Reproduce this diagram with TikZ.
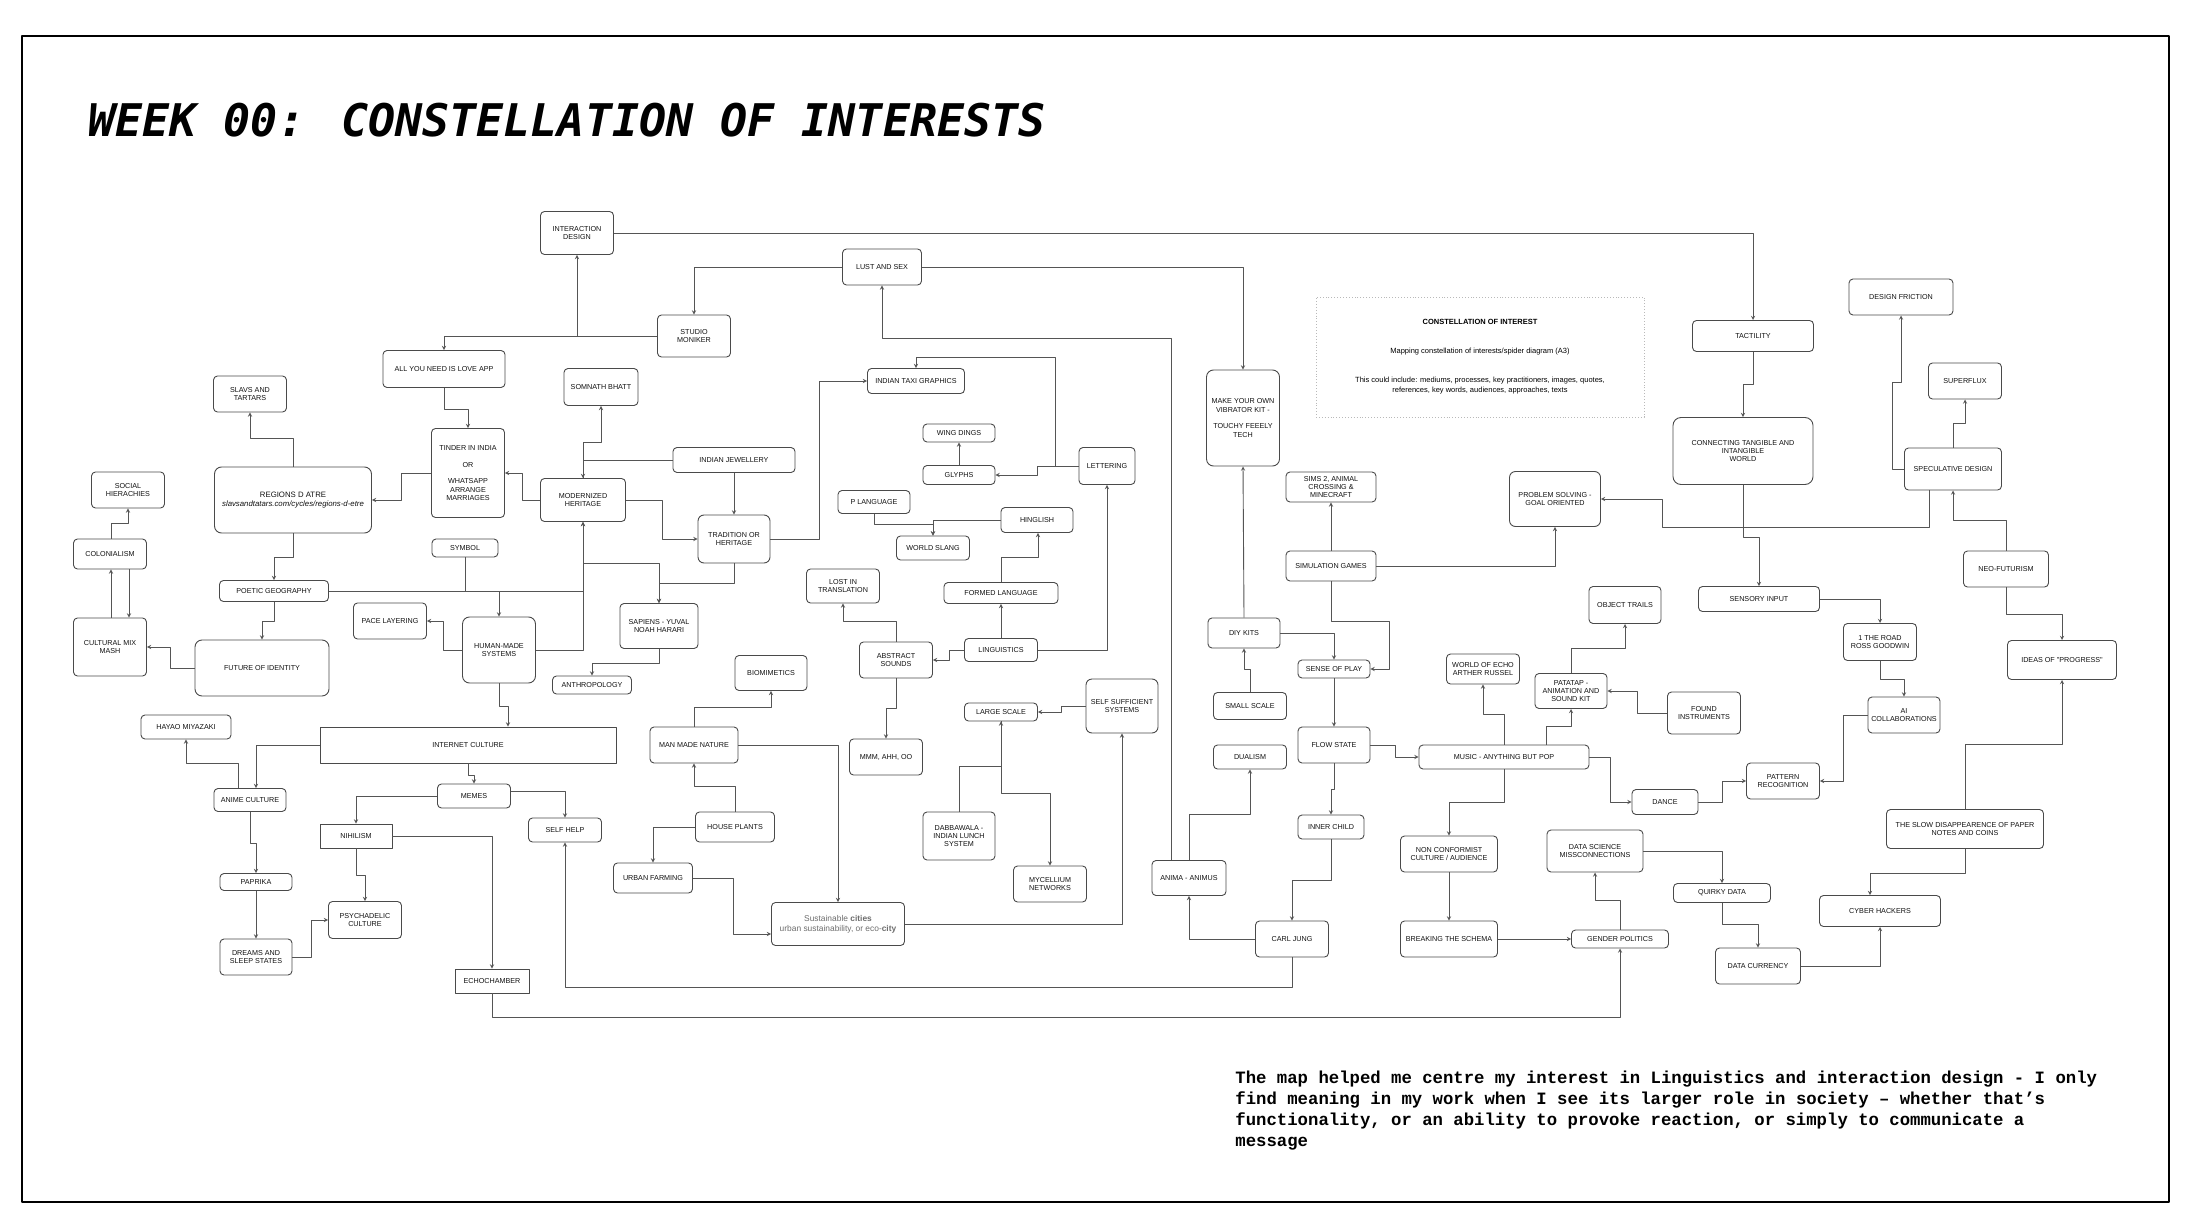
\documentclass[tikz,border=0pt]{standalone}
\usepackage{fontspec}
\newfontfamily\boxfont{Liberation Sans}
\newfontfamily\titlefont{DejaVu Sans Mono}
\newfontfamily\notefont{Liberation Mono}
\definecolor{boxline}{HTML}{4A4A4A}
\definecolor{lnkgray}{HTML}{555555}
\definecolor{txtgray}{HTML}{111111}
\begin{document}
\begin{tikzpicture}[>=stealth,line join=round,x=1pt,y=-1pt,line width=.9pt,
  box/.style={draw=boxline,rounded corners=4pt,align=center,inner sep=1pt,text=txtgray,font=\boxfont\fontsize{7.2}{8.4}\selectfont},
  sqbox/.style={box,sharp corners},
  wh/.style 2 args={minimum width=#1pt,minimum height=#2pt},
  lnk/.style={->,draw=lnkgray}]
\useasboundingbox (0,0) rectangle (2194,1230);
%========================
\draw[line width=2.5pt] (22,36) rectangle (2169,1202);
\node[anchor=base west,inner sep=0,font=\titlefont\bfseries\itshape\fontsize{45}{50}\selectfont] (title) at (88,137) {WEEK 00: CONSTELLATION OF INTERESTS};
\node[anchor=north west,inner sep=0,align=left,font=\notefont\bfseries\fontsize{17.3}{21}\selectfont] (note) at (1235,1071) {The map helped me centre my interest in Linguistics and interaction design - I only\\find meaning in my work when I see its larger role in society – whether that’s\\functionality, or an ability to provoke reaction, or simply to communicate a\\message};
\node[draw=gray!55,dotted,align=center,inner sep=1pt,minimum width=328pt,minimum height=120pt,font=\boxfont\fontsize{7.5}{10}\selectfont] (infobox) at (1480,357) {\textbf{CONSTELLATION OF INTEREST}\\[19pt]Mapping constellation of interests/spider diagram (A3)\\[19pt]This could include: mediums, processes, key practitioners, images, quotes,\\references, key words, audiences, approaches, texts};
%========================
\node[box,wh={73}{43}] (intdes) at (577,233) {INTERACTION\\DESIGN};
\node[box,wh={122}{37}] (allyou) at (444,369) {ALL YOU NEED IS LOVE APP};
\node[box,wh={73}{36}] (slavs) at (250,394) {SLAVS AND\\TARTARS};
\node[box,wh={74}{37}] (somnath) at (601,387) {SOMNATH BHATT};
\node[box,wh={73}{89}] (tinder) at (468,473) {TINDER IN INDIA\\ \\OR\\ \\WHATSAPP\\ARRANGE\\MARRIAGES};
\node[box,wh={157}{66},rounded corners=7pt,font=\boxfont\fontsize{7.8}{9.4}\selectfont] (regions) at (293,500) {REGIONS D ATRE\\\textit{slavsandtatars.com/cycles/regions-d-etre}};
\node[box,wh={73}{36}] (social) at (128,490) {SOCIAL\\HIERACHIES};
\node[box,wh={73}{30}] (colon) at (110,554) {COLONIALISM};
\node[box,wh={85}{43}] (modher) at (583,500) {MODERNIZED\\HERITAGE};
\node[box,wh={66}{18}] (symbol) at (465,548) {SYMBOL};
\node[box,wh={109}{21}] (poetic) at (274,591) {POETIC GEOGRAPHY};
\node[box,wh={73}{36}] (pace) at (390,621) {PACE LAYERING};
\node[box,wh={73}{58}] (mixmash) at (110,647) {CULTURAL MIX\\MASH};
\node[box,wh={134}{56},rounded corners=7pt] (futid) at (262,668) {FUTURE OF IDENTITY};
\node[box,wh={73}{66},rounded corners=7pt] (humsys) at (499,650) {HUMAN-MADE\\SYSTEMS};
\node[box,wh={79}{18}] (anthro) at (592,685) {ANTHROPOLOGY};
\node[box,wh={90}{24}] (hayao) at (186,727) {HAYAO MIYAZAKI};
\node[sqbox,wh={296}{36}] (netcult) at (468,745) {INTERNET CULTURE};
\node[box,wh={72}{23}] (anime) at (250,800) {ANIME CULTURE};
\node[box,wh={73}{24}] (memes) at (474,796) {MEMES};
\node[sqbox,wh={72}{24}] (nihil) at (356,836) {NIHILISM};
\node[box,wh={73}{24}] (selfhelp) at (565,830) {SELF HELP};
\node[box,wh={72}{17}] (paprika) at (256,882) {PAPRIKA};
\node[box,wh={73}{37}] (psych) at (365,920) {PSYCHADELIC\\CULTURE};
\node[box,wh={72}{36}] (dreams) at (256,957) {DREAMS AND\\SLEEP STATES};
\node[sqbox,wh={74}{24}] (echo) at (492,981) {ECHOCHAMBER};
%========================
\node[box,wh={79}{36}] (lust) at (882,267) {LUST AND SEX};
\node[box,wh={73}{42}] (studio) at (694,336) {STUDIO\\MONIKER};
\node[box,wh={97}{25}] (taxi) at (916,381) {INDIAN TAXI GRAPHICS};
\node[box,wh={72}{18}] (wing) at (959,433) {WING DINGS};
\node[box,wh={72}{19}] (glyphs) at (959,475) {GLYPHS};
\node[box,wh={56}{37}] (letter) at (1107,466) {LETTERING};
\node[box,wh={122}{25}] (jewel) at (734,460) {INDIAN JEWELLERY};
\node[box,wh={72}{48},rounded corners=6pt] (trad) at (734,539) {TRADITION OR\\HERITAGE};
\node[box,wh={72}{23}] (plang) at (874,502) {P LANGUAGE};
\node[box,wh={73}{24}] (slang) at (933,548) {WORLD SLANG};
\node[box,wh={72}{25}] (hinglish) at (1037,520) {HINGLISH};
\node[box,wh={73}{34}] (lost) at (843,586) {LOST IN\\TRANSLATION};
\node[box,wh={114}{21}] (formed) at (1001,593) {FORMED LANGUAGE};
\node[box,wh={78}{45}] (sapiens) at (659,626) {SAPIENS - YUVAL\\NOAH HARARI};
\node[box,wh={72}{35}] (biomim) at (771,673) {BIOMIMETICS};
\node[box,wh={73}{36}] (abstract) at (896,660) {ABSTRACT\\SOUNDS};
\node[box,wh={73}{23}] (ling) at (1001,650) {LINGUISTICS};
\node[box,wh={73}{18}] (large) at (1001,712) {LARGE SCALE};
\node[box,wh={72}{54},rounded corners=6pt] (selfsuff) at (1122,706) {SELF SUFFICIENT\\SYSTEMS};
\node[box,wh={88}{36}] (mmnature) at (694,745) {MAN MADE NATURE};
\node[box,wh={73}{36}] (mmm) at (886,757) {MMM, AHH, OO};
\node[box,wh={79}{30}] (house) at (735,827) {HOUSE PLANTS};
\node[box,wh={72}{48}] (dabba) at (959,836) {DABBAWALA -\\INDIAN LUNCH\\SYSTEM};
\node[box,wh={79}{30}] (urban) at (653,878) {URBAN FARMING};
\node[box,wh={73}{36}] (mycel) at (1050,884) {MYCELLIUM\\NETWORKS};
\node[box,wh={133}{43},text=gray!85!black,font=\boxfont\fontsize{8.4}{10}\selectfont] (sustain) at (838,924) {Sustainable \textbf{cities}\\urban sustainability, or eco-\textbf{city}};
%========================
\node[box,wh={73}{96},rounded corners=7pt] (vibrator) at (1243,418) {MAKE YOUR OWN\\VIBRATOR KIT -\\ \\TOUCHY FEEELY\\TECH};
\node[box,wh={90}{30}] (sims) at (1331,487) {SIMS 2, ANIMAL\\CROSSING \&\\MINECRAFT};
\node[box,wh={91}{55},rounded corners=6pt] (problem) at (1555,499) {PROBLEM SOLVING -\\GOAL ORIENTED};
\node[box,wh={90}{30}] (simgames) at (1331,566) {SIMULATION GAMES};
\node[box,wh={72}{37}] (objtrails) at (1625,605) {OBJECT TRAILS};
\node[box,wh={121}{31}] (tact) at (1753,336) {TACTILITY};
\node[box,wh={104}{36}] (friction) at (1901,297) {DESIGN FRICTION};
\node[box,wh={73}{36}] (superflux) at (1965,381) {SUPERFLUX};
\node[box,wh={140}{67},rounded corners=8pt] (connect) at (1743,451) {CONNECTING TANGIBLE AND\\INTANGIBLE\\WORLD};
\node[box,wh={97}{42}] (specul) at (1953,469) {SPECULATIVE DESIGN};
\node[box,wh={85}{36}] (neofut) at (2006,569) {NEO-FUTURISM};
\node[box,wh={121}{25}] (sensory) at (1759,599) {SENSORY INPUT};
\node[box,wh={73}{37}] (road) at (1880,642) {1 THE ROAD\\ROSS GOODWIN};
\node[box,wh={109}{39}] (ideas) at (2062,660) {IDEAS OF "PROGRESS"};
\node[box,wh={73}{42}] (found) at (1704,713) {FOUND\\INSTRUMENTS};
\node[box,wh={72}{36}] (aicollab) at (1904,715) {AI\\COLLABORATIONS};
\node[box,wh={73}{36}] (pattern) at (1783,781) {PATTERN\\RECOGNITION};
\node[box,wh={66}{25}] (dance) at (1665,802) {DANCE};
\node[box,wh={157}{39}] (slowdis) at (1965,829) {THE SLOW DISAPPEARENCE OF PAPER\\NOTES AND COINS};
\node[box,wh={97}{19}] (quirky) at (1722,893) {QUIRKY DATA};
\node[box,wh={121}{31}] (cyber) at (1880,911) {CYBER HACKERS};
\node[box,wh={85}{36}] (datacur) at (1758,966) {DATA CURRENCY};
\node[box,wh={72}{30}] (diy) at (1244,633) {DIY KITS};
\node[box,wh={72}{18}] (senseplay) at (1334,669) {SENSE OF PLAY};
\node[box,wh={73}{30}] (worldecho) at (1483,669) {WORLD OF ECHO\\ARTHER RUSSEL};
\node[box,wh={72}{35}] (patatap) at (1571,691) {PATATAP -\\ANIMATION AND\\SOUND KIT};
\node[box,wh={73}{27}] (smallsc) at (1250,706) {SMALL SCALE};
\node[box,wh={72}{36}] (flow) at (1334,745) {FLOW STATE};
\node[box,wh={73}{24}] (dualism) at (1250,757) {DUALISM};
\node[box,wh={170}{24}] (music) at (1504,757) {MUSIC - ANYTHING BUT POP};
\node[box,wh={66}{24}] (inner) at (1331,827) {INNER CHILD};
\node[box,wh={97}{36}] (nonconf) at (1449,854) {NON CONFORMIST\\CULTURE / AUDIENCE};
\node[box,wh={96}{42}] (datasci) at (1595,851) {DATA SCIENCE\\MISSCONNECTIONS};
\node[box,wh={73}{36}] (carl) at (1292,939) {CARL JUNG};
\node[box,wh={97}{36}] (breaking) at (1449,939) {BREAKING THE SCHEMA};
\node[box,wh={97}{18}] (gender) at (1620,939) {GENDER POLITICS};
\node[box,wh={74}{35}] (anima) at (1189,878) {ANIMA - ANIMUS};
%========================
\draw[lnk] (intdes.east) -| (tact.north);
\draw[lnk] (studio.west) -| (intdes.south);
\draw[lnk] (studio.west) -| (allyou.north);
\draw[lnk] (lust.west) -| (studio.north);
\draw[lnk] (lust.east) -| (vibrator.north);
\draw[lnk] ([xshift=-18pt]anima.north) -- ++(0,-522) -| (lust.south);
\draw[lnk] (allyou.south) -- ++(0,21) -| (tinder.north);
\draw[lnk] (tinder.west) -- ++(-30,0) |- (regions.east);
\draw[lnk] (modher.west) -- ++(-18,0) |- (tinder.east);
\draw[lnk] (regions.north) -- ++(0,-28) -| (slavs.south);
\draw[lnk] (regions.south) -- ++(0,24) -| (poetic.north);
\draw[lnk] ([xshift=1pt]colon.north) -- ++(0,-15) -| (social.south);
\draw[lnk] ([xshift=1pt]mixmash.north) -- ([xshift=1pt]colon.south);
\draw[lnk] ([xshift=19pt]colon.south) -- ([xshift=19pt]mixmash.north);
\draw[lnk] (jewel.west) -| (modher.north);
\draw[lnk] (modher.north) -- ++(0,-36) -| (somnath.south);
\draw[lnk] (jewel.south) -- (trad.north);
\draw[lnk] (modher.east) -- ++(36,0) |- (trad.west);
\draw[lnk] (trad.east) -- ++(49,0) |- (taxi.west);
\draw[lnk] (letter.west) -- ++(-23,0) -- ++(0,-109) -| (taxi.north);
\draw[lnk] (letter.west) -- ++(-41,0) |- (glyphs.east);
\draw[lnk] (glyphs.north) -- (wing.south);
\draw[lnk] (ling.east) -| (letter.south);
\draw[lnk] (plang.south) -- ++(0,10) -| (slang.north);
\draw[lnk] (hinglish.west) -| (slang.north);
\draw[lnk] (formed.north) -- ++(0,-25) -| ([xshift=1pt]hinglish.south);
\draw[lnk] (ling.north) -- (formed.south);
\draw[lnk] (ling.west) -- ++(-15,0) |- (abstract.east);
\draw[lnk] (abstract.north) -- ++(0,-20) -| (lost.south);
\draw[lnk] (abstract.south) -- ++(0,30) -| (mmm.north);
\draw[lnk] (selfsuff.west) -- ++(-24,0) |- (large.east);
\draw[lnk] (dabba.north) -- ++(0,-45) -| (large.south);
\draw[lnk] (large.south) -- ++(0,72) -| (mycel.north);
\draw[lnk] (mmnature.north) -- ++(0,-19) -| (biomim.south);
\draw[lnk] (house.north) -- ++(0,-25) -| (mmnature.south);
\draw[lnk] (house.west) -| (urban.north);
\draw[lnk] (urban.east) -- ++(40,0) |- ([yshift=-10pt]sustain.west);
\draw[lnk] (mmnature.east) -| (sustain.north);
\draw[lnk] (sustain.east) -| (selfsuff.south);
\draw[lnk] (trad.south) -- ++(0,20) -| (sapiens.north);
\draw[lnk] (poetic.east) -| (modher.south);
\draw[lnk,-] (symbol.south) -- (symbol.south |- poetic.east);
\draw[lnk] (poetic.east -| humsys.north) -- (humsys.north);
\draw[lnk] (humsys.east) -| (modher.south);
\draw[lnk] (modher.south) ++(0,41) -| (sapiens.north);
\draw[lnk] (sapiens.south) -- ++(0,14) -| (anthro.north);
\draw[lnk] (humsys.west) -- ++(-19,0) |- (pace.east);
\draw[lnk] (humsys.south) -- ++(0,23) -| ([xshift=40pt]netcult.north);
\draw[lnk] (poetic.south) -- ++(0,19) -| (futid.north);
\draw[lnk] (futid.west) -- ++(-24,0) |- (mixmash.east);
\draw[lnk] (netcult.west) -| ([xshift=6pt]anime.north);
\draw[lnk] ([xshift=-12pt]anime.north) -- ++(0,-25) -| (hayao.south);
\draw[lnk] (netcult.south) -- ++(0,12) -| (memes.north);
\draw[lnk] (memes.west) -| (nihil.north);
\draw[lnk] ([yshift=5pt]memes.east) -| (selfhelp.north);
\draw[lnk] (nihil.south) -- ++(0,27) -| (psych.north);
\draw[lnk] (nihil.east) -| (echo.north);
\draw[lnk] (anime.south) -- ++(0,31) -| (paprika.north);
\draw[lnk] (paprika.south) -- (dreams.north);
\draw[lnk] (dreams.east) -- ++(19,0) |- (psych.west);
\draw[lnk] (carl.south) -- ++(0,30) -| (selfhelp.south);
\draw[lnk] (echo.south) -- ++(0,24) -| (gender.south);
%========================
\draw[lnk] (simgames.north) -- (sims.south);
\draw[lnk] (simgames.east) -| (problem.south);
\draw[lnk] ([xshift=-24pt]specul.south) -- ++(0,37) -- ++(-267,0) |- (problem.east);
\draw[lnk] (connect.south) -- ++(0,52) -| (sensory.north);
\draw[lnk] (tact.south) -- ++(0,32) -| (connect.north);
\draw[lnk] (specul.west) -- ++(-12,0) -- ++(0,-87) -| (friction.south);
\draw[lnk] (specul.north) -- ++(0,-24) -| (superflux.south);
\draw[lnk] (neofut.north) -- ++(0,-30) -| (specul.south);
\draw[lnk] (neofut.south) -- ++(0,27) -| (ideas.north);
\draw[lnk] (sensory.east) -| (road.north);
\draw[lnk] (road.south) -- ++(0,18) -| (aicollab.north);
\draw[lnk] (aicollab.west) -- ++(-24,0) |- (pattern.east);
\draw[lnk] (dance.east) -- ++(24,0) |- (pattern.west);
\draw[lnk] (music.east) -- ++(21,0) |- (dance.west);
\draw[lnk] (slowdis.north) -- ++(0,-65) -| (ideas.south);
\draw[lnk] (slowdis.south) -- ++(0,24) -| ([xshift=-10pt]cyber.north);
\draw[lnk] (datacur.east) -| (cyber.south);
\draw[lnk] (quirky.south) -- ++(0,21) -| (datacur.north);
\draw[lnk] (datasci.east) -| (quirky.north);
\draw[lnk] (gender.north) -- ++(0,-29) -| (datasci.south);
\draw[lnk] (breaking.east) -- (gender.west);
\draw[lnk] (nonconf.south) -- (breaking.north);
\draw[lnk] (music.south) -- ++(0,33) -| (nonconf.north);
\draw[lnk] (music.north) -- ++(0,-30) -| (worldecho.south);
\draw[lnk] ([xshift=42pt]music.north) -- ++(0,-18) -| (patatap.south);
\draw[lnk] (patatap.north) -- ++(0,-25) -| (objtrails.south);
\draw[lnk] (found.west) -- ++(-30,0) |- (patatap.east);
\draw[lnk] (flow.east) -- ++(25,0) |- (music.west);
\draw[lnk] (senseplay.south) -- (flow.north);
\draw[lnk] (diy.east) -| (senseplay.north);
\draw[lnk] (simgames.south) -- ++(0,40) -- ++(58,0) |- (senseplay.east);
\draw[lnk] (smallsc.north) -- ++(0,-23) -| (diy.south);
\draw[lnk] (diy.north) -- (vibrator.south);
\draw[lnk] (flow.south) -- ++(0,26) -| (inner.north);
\draw[lnk] (inner.south) -- ++(0,41) -| (carl.north);
\draw[lnk] (carl.west) -| (anima.south);
\draw[lnk] (anima.north) -- ++(0,-46) -| (dualism.south);
%========================
\end{tikzpicture}
\end{document}
